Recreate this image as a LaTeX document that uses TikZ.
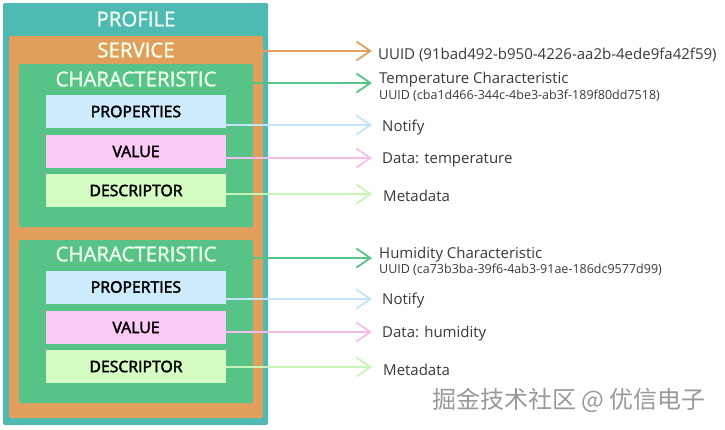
\documentclass[tikz,border=0pt]{standalone}
\usepackage{fontspec}
\setmainfont{Open Sans}
\newfontfamily\semifont{Open Sans}[FakeBold=1.4]
\newfontfamily\boldfont{Open Sans}[FakeBold=2.6]
\newfontfamily\cjk{Noto Sans CJK SC}
\usepackage{xcolor}
\usepackage{tikz}
\usetikzlibrary{arrows.meta,positioning}

\definecolor{profteal}{HTML}{4FBAB2}
\definecolor{servorange}{HTML}{E29F5B}
\definecolor{chargreen}{HTML}{58C387}
\definecolor{propblue}{HTML}{CDEBFB}
\definecolor{valpink}{HTML}{FBCBF6}
\definecolor{descgreen}{HTML}{D5FCC3}
\definecolor{notegray}{HTML}{3A3A3A}
\definecolor{propline}{HTML}{C2E5F8}
\definecolor{valline}{HTML}{F6BDEC}
\definecolor{descline}{HTML}{C8F5B6}

\begin{document}
\begin{tikzpicture}[x=1pt, y=-1pt, line join=round,
  >={Straight Barb[length=14pt,width=19pt,line width=1.8pt]},
  frame/.style={inner sep=0pt, outer sep=0pt, rounded corners=1.5pt},
  title/.style={inner sep=0pt, text=white!93!green, font=\semifont\fontsize{20.4}{21}\selectfont},
  item/.style={inner sep=0pt, outer sep=0pt, minimum width=180pt, minimum height=33pt,
    font=\boldfont\fontsize{15.8}{16}\selectfont},
  note/.style={anchor=west, inner sep=0pt, text=notegray, font=\fontsize{15}{16}\selectfont},
  subnote/.style={anchor=west, inner sep=0pt, text=notegray, font=\fontsize{12.5}{13}\selectfont},
  link/.style={->, line width=1.8pt}]
  \useasboundingbox (0,0) rectangle (725,429);
  \fill[white] (0,0) rectangle (725,429);

  \node[frame, fill=profteal, minimum width=265pt, minimum height=422pt] (profile) at (135.5,214) {};
  \node[frame, fill=servorange, minimum width=254pt, minimum height=382pt] (service) at (136,227) {};
  \node[frame, fill=chargreen, minimum width=234pt, minimum height=163pt] (char1) at (136,145.5) {};
  \node[frame, fill=chargreen, minimum width=234pt, minimum height=163pt] (char2) at (136,321.5) {};

  \node[title] (profileT) at (136,19) {PROFILE};
  \node[title] (serviceT) at (136,50) {SERVICE};
  \node[title] (char1T) at (136,79) {CHARACTERISTIC};
  \node[title] (char2T) at (136,254) {CHARACTERISTIC};

  \node[item, fill=propblue] (prop1) at (136,111.5) {PROPERTIES};
  \node[item, fill=valpink] (val1) at (136,151.5) {VALUE};
  \node[item, fill=descgreen] (desc1) at (136,190.5) {DESCRIPTOR};
  \node[item, fill=propblue] (prop2) at (136,287) {PROPERTIES};
  \node[item, fill=valpink] (val2) at (136,327.5) {VALUE};
  \node[item, fill=descgreen] (desc2) at (136,366.5) {DESCRIPTOR};

  \coordinate (servTip) at (372,51);
  \coordinate (char1Tip) at (372,83);
  \coordinate (prop1Tip) at (372,125);
  \coordinate (val1Tip) at (372,158);
  \coordinate (desc1Tip) at (372,194);
  \coordinate (char2Tip) at (372,258);
  \coordinate (prop2Tip) at (372,299);
  \coordinate (val2Tip) at (372,332);
  \coordinate (desc2Tip) at (372,367);

  \draw[link, servorange] (service.east |- servTip) -- (servTip);
  \draw[link, chargreen] (char1.east |- char1Tip) -- (char1Tip);
  \draw[link, propline] (prop1.east |- prop1Tip) -- (prop1Tip);
  \draw[link, valline] (val1.east |- val1Tip) -- (val1Tip);
  \draw[link, descline] (desc1.east |- desc1Tip) -- (desc1Tip);
  \draw[link, chargreen] (char2.east |- char2Tip) -- (char2Tip);
  \draw[link, propline] (prop2.east |- prop2Tip) -- (prop2Tip);
  \draw[link, valline] (val2.east |- val2Tip) -- (val2Tip);
  \draw[link, descline] (desc2.east |- desc2Tip) -- (desc2Tip);

  \node[note] (servL) at (378,55) {UUID (91bad492-b950-4226-aa2b-4ede9fa42f59)};
  \node[note] (char1L) at (379,80) {Temperature Characteristic};
  \node[subnote] (char1U) at (379,95.5) {UUID (cba1d466-344c-4be3-ab3f-189f80dd7518)};
  \node[note] (prop1L) at (382,128) {Notify};
  \node[note] (val1L) at (382,160) {Data: temperature};
  \node[note] (desc1L) at (383,196) {Metadata};
  \node[note] (char2L) at (379,255) {Humidity Characteristic};
  \node[subnote] (char2U) at (379,269.5) {UUID (ca73b3ba-39f6-4ab3-91ae-186dc9577d99)};
  \node[note] (prop2L) at (382,301) {Notify};
  \node[note] (val2L) at (382,334) {Data: humidity};
  \node[note] (desc2L) at (383,370) {Metadata};

  \node[inner sep=0pt, text=black!40, font=\cjk\fontsize{24}{25}\selectfont] (mark) at (569,400) {掘金技术社区 @ 优信电子};
\end{tikzpicture}
\end{document}
